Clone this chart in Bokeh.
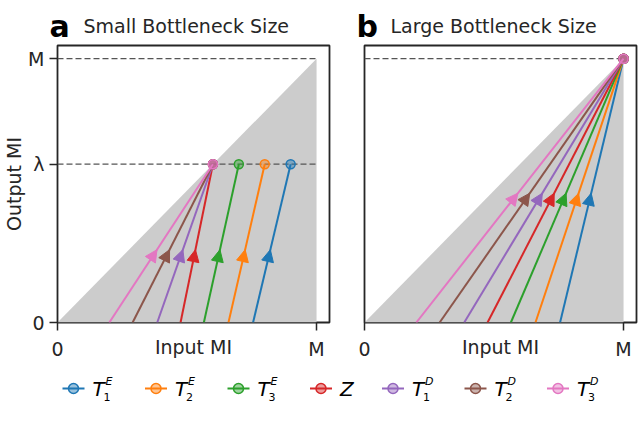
from bokeh.plotting import figure
from bokeh.models import Range1d, FixedTicker, Arrow, NormalHead
from bokeh.layouts import column, row
from bokeh.embed import file_html
from bokeh.resources import INLINE
from bokeh.core.properties import value

# ---- data ----
series_base = ["T", "T", "T", "Z", "T", "T", "T"]
series_sup = ["E", "E", "E", "", "D", "D", "D"]
series_sub = ["1", "2", "3", "", "1", "2", "3"]
colors = ["#1f77b4", "#ff7f0e", "#2ca02c", "#d62728", "#9467bd", "#8c564b", "#e377c2"]
input_start = [0.755, 0.66, 0.565, 0.475, 0.385, 0.29, 0.2]   # input MI at output 0
small_end_x = [0.9, 0.8, 0.7, 0.6, 0.6, 0.6, 0.6]            # end input MI, small bottleneck
M = 1.0
lam = 0.6
large_end_x = [M] * 7
large_end_y = [M] * 7
small_end_y = [lam] * 7
x_ticks = [0, M]
x_tick_labels = ["0", "M"]
y_ticks = [0, lam, M]
y_tick_labels = ["0", "λ", "M"]
panel_letters = ["a", "b"]
panel_titles = ["Small Bottleneck Size", "Large Bottleneck Size"]

FONT = "DejaVu Sans"
DARK = "#262626"


def make_panel(end_x, end_y, hlines, arrow_frac, show_y, mb_left, mb_right):
    p = figure(frame_width=272, frame_height=277,
               x_range=Range1d(0, 1.05), y_range=Range1d(0, 1.05),
               output_backend="svg", toolbar_location=None,
               min_border_left=mb_left, min_border_right=mb_right,
               min_border_top=1, min_border_bottom=40)
    p.grid.visible = False
    p.outline_line_color = DARK
    p.outline_line_width = 1.8
    p.background_fill_color = "white"
    p.border_fill_color = "white"

    # feasible region
    p.patch([0, M, M], [0, 0, M], color="#cccccc", line_width=0)
    for h in hlines:
        p.line([0, M], [h, h], line_dash="6 3", line_color="#555555", line_width=1.3)

    for i, c in enumerate(colors):
        x0, y0 = input_start[i], 0.0
        x1, y1 = end_x[i], end_y[i]
        p.line([x0, x1], [y0, y1], line_color=c, line_width=2)
        xa = x0 + arrow_frac * (x1 - x0)
        ya = y0 + arrow_frac * (y1 - y0)
        p.add_layout(Arrow(end=NormalHead(size=12, fill_color=c, line_color=c, line_width=1),
                           x_start=x0, y_start=y0, x_end=xa, y_end=ya,
                           line_alpha=0, line_width=0))
        p.scatter([x1], [y1], size=9, fill_color=c, fill_alpha=0.45,
                  line_color=c, line_width=1.5)

    for ax in (p.xaxis, p.yaxis):
        ax.axis_line_color = None
        ax.major_tick_line_color = DARK
        ax.major_tick_line_width = 1.5
        ax.major_tick_out = 8
        ax.major_tick_in = 0
        ax.minor_tick_line_color = None
        ax.major_label_text_font = FONT
        ax.major_label_text_font_size = "19px"
        ax.major_label_text_color = DARK
        ax.axis_label_text_font = FONT
        ax.axis_label_text_font_size = "19px"
        ax.axis_label_text_font_style = "normal"
        ax.axis_label_text_color = DARK

    p.xaxis.ticker = FixedTicker(ticks=x_ticks)
    p.xaxis.major_label_overrides = {t: s for t, s in zip(x_ticks, x_tick_labels)}
    p.xaxis.major_label_standoff = 7
    p.xaxis.axis_label = "Input MI"
    p.xaxis.axis_label_standoff = -27

    if show_y:
        p.yaxis.ticker = FixedTicker(ticks=y_ticks)
        p.yaxis.major_label_overrides = {t: s for t, s in zip(y_ticks, y_tick_labels)}
        p.yaxis.major_label_standoff = 5
        p.yaxis.axis_label = "Output MI"
        p.yaxis.axis_label_standoff = 0
    else:
        p.yaxis.visible = False
    return p


p1 = make_panel(small_end_x, small_end_y, [M, lam], 0.46, True, 40, 17)
p2 = make_panel(large_end_x, large_end_y, [M], 0.49, False, 18, 2)


def strip(height):
    f = figure(width=632, height=height, x_range=Range1d(0, 632), y_range=Range1d(0, height),
               output_backend="svg", toolbar_location=None, min_border=0)
    f.axis.visible = False
    f.grid.visible = False
    f.outline_line_color = None
    f.background_fill_color = "white"
    f.border_fill_color = "white"
    return f


# ---- title strip ----
top = strip(44)
frame_lefts = [49, 356]
for k in range(2):
    top.text([frame_lefts[k]], [18.5], text=[panel_letters[k]], text_font=value(FONT),
             text_font_size="30px", text_font_style="bold", text_color="black",
             text_baseline="middle", text_align="left")
    top.text([frame_lefts[k] + 34], [18.5], text=[panel_titles[k]], text_font=value(FONT),
             text_font_size="19px", text_color=DARK,
             text_baseline="middle", text_align="left")

# ---- legend strip ----
leg = strip(46)
cy = 20
cx = 73
for i, c in enumerate(colors):
    leg.line([cx - 11, cx + 11], [cy, cy], line_color=c, line_width=2)
    leg.scatter([cx], [cy], size=10, fill_color=c, fill_alpha=0.45, line_color=c, line_width=1.5)
    leg.text([cx + 19], [cy], text=[series_base[i]], text_font=value(FONT),
             text_font_size="20px", text_font_style="italic", text_color="black",
             text_baseline="middle", text_align="left")
    if series_sup[i]:
        leg.text([cx + 32], [cy + 7], text=[series_sup[i]], text_font=value(FONT),
                 text_font_size="11px", text_font_style="italic", text_color="black",
                 text_baseline="middle", text_align="left")
        leg.text([cx + 30], [cy - 8], text=[series_sub[i]], text_font=value(FONT),
                 text_font_size="11px", text_color="black",
                 text_baseline="middle", text_align="left")
        label_w = 21
    else:
        label_w = 10.5
    cx += 61.5 + label_w

layout = column(top, row(p1, p2), leg)
open("out.html", "w").write(file_html(layout, INLINE))
